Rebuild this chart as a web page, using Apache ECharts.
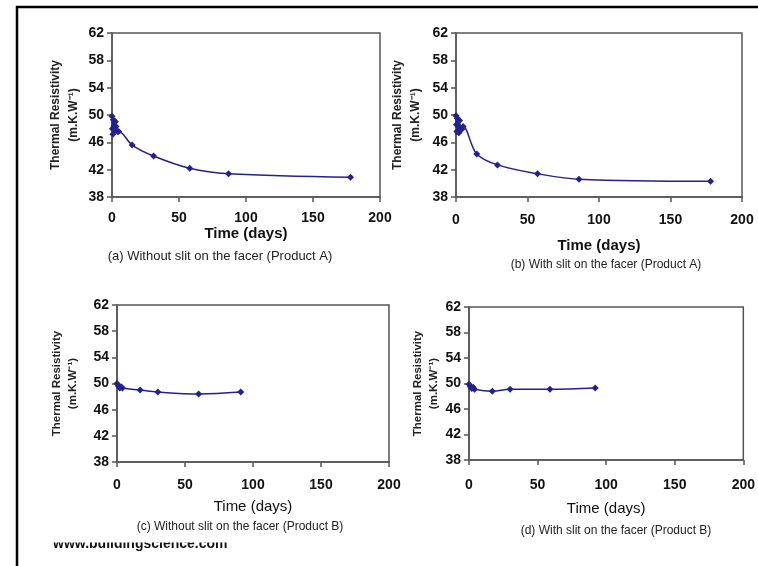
<!DOCTYPE html>
<html>
<head>
<meta charset="utf-8">
<script src="https://cdn.jsdelivr.net/npm/echarts@6/dist/echarts.min.js"></script>
<style>html,body{margin:0;padding:0;background:#fff;}#c{width:758px;height:566px;}</style>
</head>
<body>
<div id="c"></div>
<script>
// ---- data (time in days, thermal resistivity in m.K.W^-1) ----
const timeA = [0, 0.3, 0.6, 1, 1.5, 2, 2.5, 3, 4, 5, 15, 31, 58, 87, 178];
const valA  = [49.8, 48.0, 47.2, 49.3, 48.4, 47.7, 49.0, 48.3, 47.6, 47.6, 45.6, 44.0, 42.2, 41.4, 40.9];
const timeB = [0, 0.3, 0.6, 1, 1.5, 2, 2.5, 3, 4, 5, 14.5, 29, 57, 86, 178];
const valB  = [49.9, 48.6, 47.6, 49.5, 48.3, 47.4, 49.2, 48.1, 47.9, 48.3, 44.3, 42.7, 41.4, 40.6, 40.3];
const timeC = [0, 1, 2, 3, 4, 17, 30, 60, 91];
const valC  = [50.0, 49.6, 49.3, 49.5, 49.3, 49.0, 48.7, 48.4, 48.7];
const timeD = [0, 1, 2, 3, 4, 17, 30, 59, 92];
const valD  = [49.9, 49.5, 49.2, 49.4, 49.1, 48.8, 49.1, 49.1, 49.3];

const yTicks = [38, 42, 46, 50, 54, 58, 62];
const xTicks = [0, 50, 100, 150, 200];
const captions = [
  '(a) Without slit on the facer (Product A)',
  '(b) With slit on the facer (Product A)',
  '(c) Without slit on the facer (Product B)',
  '(d) With slit on the facer (Product B)'
];
const yName = 'Thermal Resistivity\n(m.K.W\u207B\u00B9)';
const xName = 'Time (days)';
const siteText = 'www.buildingscience.com';

const FONT = '"Liberation Sans", Arial, sans-serif';
const AX = '#555';
const LINE = '#22228f';

const grids = [
  {left: 112, top: 33, width: 268, height: 164},
  {left: 456, top: 33, width: 286, height: 164},
  {left: 117, top: 305, width: 272, height: 157},
  {left: 469, top: 307, width: 275, height: 153}
];
const xGap = [15, 27, 23, 27];
const xLabMargin = [14, 16, 16, 18];
const xNameWeight = ['bold', 'bold', 'normal', 'normal'];
const yGap = [29, 31, 36, 27];

function pairs(t, v) { return t.map((x, i) => [x, v[i]]); }
const datasets = [pairs(timeA, valA), pairs(timeB, valB), pairs(timeC, valC), pairs(timeD, valD)];

const option = {
  animation: false,
  backgroundColor: '#fff',
  textStyle: {fontFamily: FONT},
  grid: grids.map(g => Object.assign({show: true, borderColor: AX, borderWidth: 1.5, backgroundColor: 'transparent'}, g)),
  xAxis: grids.map((g, i) => ({
    type: 'value', gridIndex: i, min: xTicks[0], max: xTicks[xTicks.length - 1], interval: 50,
    axisLine: {show: true, lineStyle: {color: AX, width: 1.5}},
    axisTick: {show: true, length: 5, lineStyle: {color: AX, width: 1.5}},
    splitLine: {show: false},
    axisLabel: {color: '#111', fontSize: 14, fontWeight: 'bold', fontFamily: FONT, margin: xLabMargin[i]},
    name: xName, nameLocation: 'middle', nameGap: xGap[i] + 14,
    nameTextStyle: {color: '#111', fontSize: 15, fontWeight: xNameWeight[i], fontFamily: FONT}
  })),
  yAxis: grids.map((g, i) => ({
    type: 'value', gridIndex: i, min: yTicks[0], max: yTicks[yTicks.length - 1], interval: 4,
    axisLine: {show: true, lineStyle: {color: AX, width: 1.5}},
    axisTick: {show: true, length: 5, lineStyle: {color: AX, width: 1.5}},
    splitLine: {show: false},
    axisLabel: {color: '#111', fontSize: 14, fontWeight: 'bold', fontFamily: FONT, margin: 8},
    name: yName, nameLocation: 'middle', nameRotate: 90, nameGap: yGap[i],
    nameTextStyle: {color: '#222', fontSize: i < 2 ? 12 : 11.5, fontWeight: 'bold', fontFamily: FONT, lineHeight: i < 2 ? 18 : 16, align: 'center'}
  })),
  series: datasets.map((d, i) => ({
    type: 'line', xAxisIndex: i, yAxisIndex: i, data: d,
    smooth: 0.35, symbol: 'diamond', symbolSize: 7, showSymbol: true,
    itemStyle: {color: LINE}, lineStyle: {color: LINE, width: 1.5}
  })),
  graphic: [
    {type: 'polyline', shape: {points: [[17, 566], [17, 7], [758, 7]]}, style: {stroke: '#000', lineWidth: 2.5, fill: null}},
    {type: 'text', x: 220, y: 256, style: {text: captions[0], font: '13px ' + FONT, fill: '#222', textAlign: 'center', textVerticalAlign: 'middle'}},
    {type: 'text', x: 606, y: 265, style: {text: captions[1], font: '12px ' + FONT, fill: '#222', textAlign: 'center', textVerticalAlign: 'middle'}},
    {type: 'text', x: 240, y: 527, style: {text: captions[2], font: '12px ' + FONT, fill: '#222', textAlign: 'center', textVerticalAlign: 'middle'}},
    {type: 'text', x: 616, y: 531, style: {text: captions[3], font: '12px ' + FONT, fill: '#222', textAlign: 'center', textVerticalAlign: 'middle'}},
    {type: 'text', x: 53, y: 551, style: {text: siteText, font: 'bold 14px ' + FONT, fill: '#111', textAlign: 'left', textVerticalAlign: 'bottom'}, z: 10},
    {type: 'rect', shape: {x: 40, y: 535, width: 200, height: 7.5}, style: {fill: '#fff'}, z: 11}
  ]
};

const chart = echarts.init(document.getElementById('c'), null, {renderer: 'canvas'});
chart.setOption(option);
</script>
</body>
</html>
